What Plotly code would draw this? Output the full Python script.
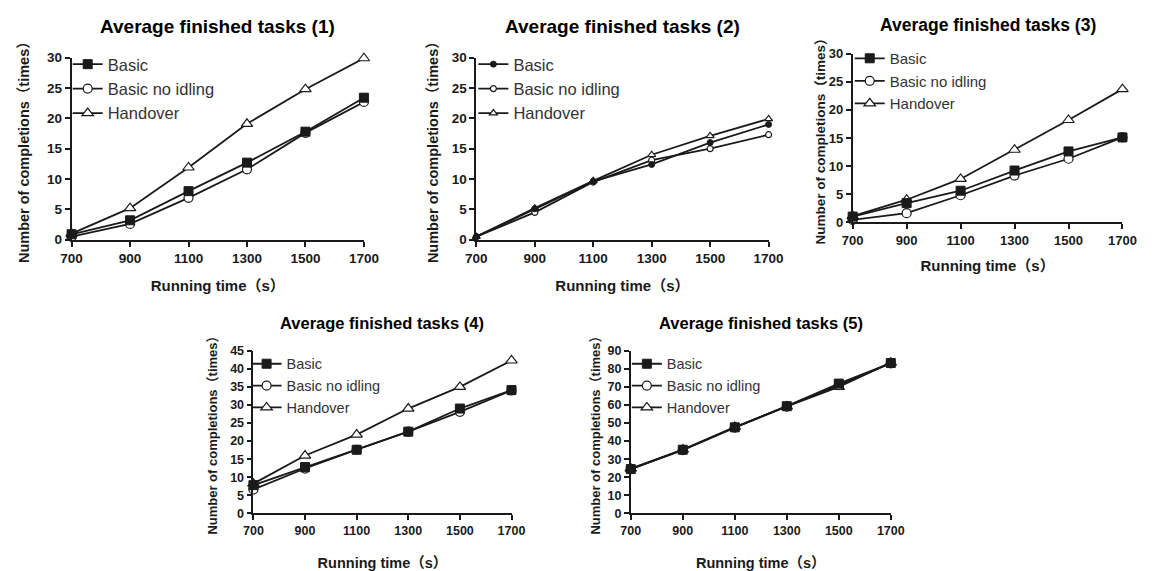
import plotly.graph_objects as go

# Running time in seconds (shared x values for all five panels)
times = [700, 900, 1100, 1300, 1500, 1700]

# Average finished tasks, one list per series and panel
p1_basic = [0.9, 3.2, 8.0, 12.7, 17.8, 23.4]
p1_noidle = [0.5, 2.6, 6.9, 11.6, 17.6, 22.7]
p1_handover = [1.0, 5.2, 11.9, 19.1, 24.8, 29.9]

p2_basic = [0.5, 5.1, 9.6, 12.4, 16.0, 19.0]
p2_noidle = [0.5, 4.5, 9.5, 13.1, 15.0, 17.3]
p2_handover = [0.5, 5.2, 9.7, 14.0, 17.1, 19.9]

p3_basic = [1.0, 3.4, 5.6, 9.2, 12.6, 15.1]
p3_noidle = [0.4, 1.6, 4.8, 8.3, 11.3, 15.1]
p3_handover = [1.1, 4.0, 7.7, 12.9, 18.2, 23.7]

p4_basic = [7.8, 12.8, 17.6, 22.6, 29.0, 34.1]
p4_noidle = [6.6, 12.4, 17.6, 22.6, 28.1, 34.0]
p4_handover = [8.2, 16.0, 21.8, 29.0, 35.0, 42.3]

p5_basic = [24.5, 35.2, 47.6, 59.3, 71.8, 83.2]
p5_noidle = [24.5, 35.0, 47.4, 59.1, 71.0, 83.0]
p5_handover = [24.8, 35.3, 47.8, 59.2, 70.0, 83.4]

series_names = ["Basic", "Basic no idling", "Handover"]
panel_titles = [
    "Average finished tasks (1)",
    "Average finished tasks (2)",
    "Average finished tasks (3)",
    "Average finished tasks (4)",
    "Average finished tasks (5)",
]
x_title = "Running time（s）"
y_title = "Number of completions（times）"

W, H = 1158, 571
FONT = "Arial, Liberation Sans, Noto Sans CJK SC, sans-serif"
INK = "#1a1a1a"

# panel boxes in pixels: left, right, top, bottom
boxes = [
    (62, 361, 52, 239),
    (476, 775, 52, 239),
    (861, 1137, 48, 221),
    (248, 512, 353, 520),
    (634, 900, 353, 520),
]
y_ranges = [(0, 30, 5), (0, 30, 5), (0, 30, 5), (0, 45, 5), (0, 90, 10)]
title_y = [20, 20, 18, 325, 325]
title_size = [19, 19, 17.5, 16.5, 16.5]
tick_size = [13.5, 13.5, 13, 12.5, 12.5]
x_title_size = [15, 15, 15, 14.5, 14.5]
y_title_size = [14.5, 14.5, 13.5, 13, 13]
x_title_standoff = [16, 16, 14, 21, 22]
y_title_standoff = [14, 10, 0, 10, 4]
legend_size = [16.5, 16.5, 15, 14.5, 14.5]
legend_left = [58, 473, 858, 241, 630]
legend_top = [41, 41, 36, 350, 350]

panels = [
    (p1_basic, p1_noidle, p1_handover),
    (p2_basic, p2_noidle, p2_handover),
    (p3_basic, p3_noidle, p3_handover),
    (p4_basic, p4_noidle, p4_handover),
    (p5_basic, p5_noidle, p5_handover),
]

fig = go.Figure()


def px_x(v):
    return v / W


def px_y(v):
    return 1 - v / H


for i, (basic, noidle, handover) in enumerate(panels):
    k = i + 1
    xa = "x" if k == 1 else f"x{k}"
    ya = "y" if k == 1 else f"y{k}"
    leg = "legend" if k == 1 else f"legend{k}"
    small = (k == 2)
    msz = 6 if small else 9
    styles = [
        dict(symbol="circle" if small else "square", size=msz, color=INK,
             line=dict(color=INK, width=1)),
        dict(symbol="circle", size=msz, color="white",
             line=dict(color=INK, width=1.2)),
        dict(symbol="triangle-up", size=msz + 1, color="white",
             line=dict(color=INK, width=1.2)),
    ]
    values = [basic, noidle, handover]
    # draw Handover first, then no idling, Basic last so it sits on top
    for j in [2, 1, 0]:
        fig.add_trace(go.Scatter(
            x=times, y=values[j], name=series_names[j],
            mode="lines+markers",
            line=dict(color=INK, width=1.8),
            marker=styles[j],
            xaxis=xa, yaxis=ya, legend=leg,
            legendgroup=f"{k}-{j}", legendrank=j + 1,
            cliponaxis=False, showlegend=True,
        ))

    l, r, t, b = boxes[i]
    y0, y1, dy = y_ranges[i]
    axis_common = dict(
        showline=True, linecolor=INK, linewidth=1.8,
        ticks="outside", ticklen=5, tickwidth=1.5, tickcolor=INK,
        showgrid=False, zeroline=False,
        tickfont=dict(family=FONT, size=tick_size[i], color=INK, weight="bold"),
    )
    fig.layout[f"xaxis{'' if k == 1 else k}"] = dict(
        domain=[px_x(l), px_x(r)], anchor=ya,
        range=[700, 1700], tickvals=times,
        title=dict(text=x_title, standoff=x_title_standoff[i],
                   font=dict(family=FONT, size=x_title_size[i], color=INK, weight="bold")),
        **axis_common,
    )
    fig.layout[f"yaxis{'' if k == 1 else k}"] = dict(
        domain=[px_y(b), px_y(t)], anchor=xa,
        range=[y0, y1], dtick=dy, tick0=0,
        title=dict(text=y_title, standoff=y_title_standoff[i],
                   font=dict(family=FONT, size=y_title_size[i], color=INK, weight="bold")),
        **axis_common,
    )
    fig.layout[leg] = dict(
        x=px_x(legend_left[i]), y=px_y(legend_top[i]),
        xanchor="left", yanchor="top",
        bgcolor="rgba(0,0,0,0)", borderwidth=0,
        font=dict(family=FONT, size=legend_size[i], color="#333333"),
        tracegroupgap=0,
        traceorder="grouped",
    )
    fig.add_annotation(
        text=f"<b>{panel_titles[i]}</b>", xref="paper", yref="paper",
        x=px_x((l + r) / 2), y=px_y(title_y[i]),
        xanchor="center", yanchor="middle", showarrow=False,
        font=dict(family=FONT, size=title_size[i], color="#000000"),
    )

fig.update_layout(
    width=W, height=H,
    margin=dict(l=0, r=0, t=0, b=0),
    paper_bgcolor="white", plot_bgcolor="white",
    showlegend=True,
)

fig.write_html("out.html")
